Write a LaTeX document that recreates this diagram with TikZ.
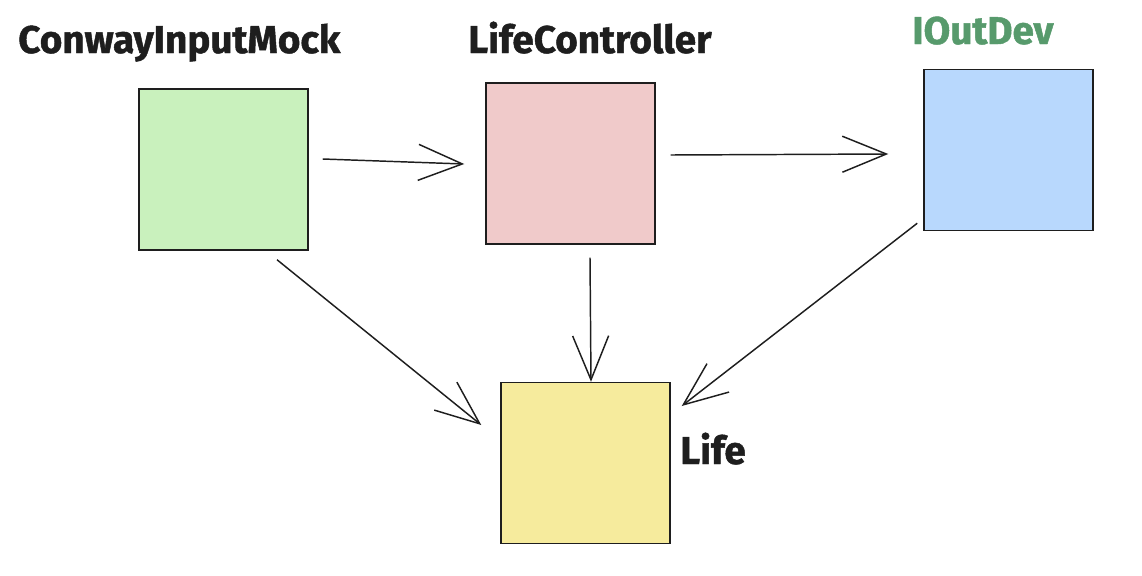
\documentclass[tikz,border=0pt]{standalone}
\usepackage{fontspec}
\usepackage{tikz}
\usetikzlibrary{arrows.meta}
\newfontfamily\firafont{Fira Sans}[BoldFeatures={FakeBold=1.2}]

\definecolor{boxline}{HTML}{1E1E1E}
\definecolor{mockgreen}{HTML}{C9F1BD}
\definecolor{ctrlpink}{HTML}{F0CACA}
\definecolor{devblue}{HTML}{B8D8FD}
\definecolor{lifeyellow}{HTML}{F6EB9D}
\definecolor{devtext}{HTML}{579A6C}

\begin{document}
\begin{tikzpicture}[x=0.75pt,y=-0.75pt,
    classbox/.style={draw=boxline,line width=1.1pt,minimum width=126.75pt,minimum height=120.75pt,inner sep=0pt},
    lbl/.style={inner sep=0pt,text=boxline,font=\firafont\bfseries\fontsize{29}{30}\selectfont},
    uses/.style={draw=boxline,line width=1.1pt,-{Straight Barb[length=33pt,width=27pt]}}]
        \useasboundingbox (0,0) rectangle (1142,575);

        %Shape: Rectangle [ConwayInputMock]
        \node [classbox,fill=mockgreen] (mock) at (223.5,169.5) {};
        %Shape: Rectangle [LifeController]
        \node [classbox,fill=ctrlpink] (ctrl) at (570.5,163.5) {};
        %Shape: Rectangle [IOutDev]
        \node [classbox,fill=devblue] (iout) at (1008.5,150) {};
        %Shape: Rectangle [Life]
        \node [classbox,fill=lifeyellow] (life) at (585.5,463) {};

        %Straight Lines [mock -> ctrl]
        \draw [uses] ([shift={(14,-10.5)}]mock.east) -- ([shift={(-21,0.5)}]ctrl.west);
        %Straight Lines [ctrl -> iout]
        \draw [uses] ([shift={(15,-8.5)}]ctrl.east) -- ([shift={(-35,4)}]iout.west);
        %Straight Lines [mock -> life]
        \draw [uses] ([shift={(53.5,9)}]mock.south) -- ([shift={(-19,-38)}]life.west);
        %Straight Lines [ctrl -> life]
        \draw [uses] ([shift={(19.5,13)}]ctrl.south) -- ([shift={(5.5,0)}]life.north);
        %Straight Lines [iout -> life]
        \draw [uses] ([shift={(-6,-8)}]iout.south west) -- ([shift={(11,-57)}]life.east);

        % Text Node
        \node [lbl,anchor=base west] (mocklbl) at (18,53) {ConwayInputMock};
        % Text Node
        \node [lbl,anchor=base west] (ctrllbl) at (468,53) {LifeController};
        % Text Node
        \node [lbl,anchor=base west,text=devtext] (ioutlbl) at (912,44) {IOutDev};
        % Text Node
        \node [lbl,anchor=base west] (lifelbl) at (680,464) {Life};

\end{tikzpicture}
\end{document}
